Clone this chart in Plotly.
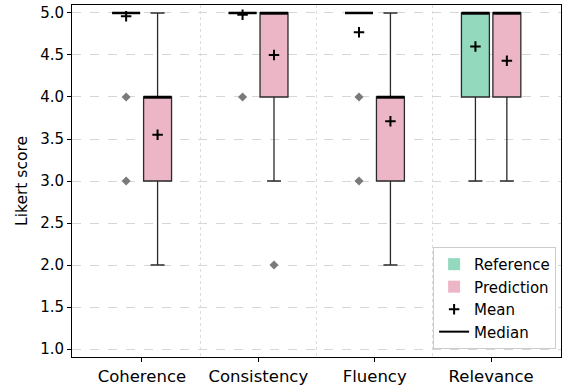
import plotly.graph_objects as go

categories = ["Coherence", "Consistency", "Fluency", "Relevance"]
cat_pos = [0, 1, 2, 3]

# Reference stats
ref_q1 = [5, 5, 5, 4]
ref_median = [5, 5, 5, 5]
ref_q3 = [5, 5, 5, 5]
ref_low = [5, 5, 5, 3]
ref_high = [5, 5, 5, 5]
ref_mean = [4.96, 4.98, 4.77, 4.60]
ref_outliers = [[4, 3], [4], [4, 3], []]

# Prediction stats
pred_q1 = [3, 4, 3, 4]
pred_median = [4, 5, 4, 5]
pred_q3 = [4, 5, 4, 5]
pred_low = [2, 3, 2, 3]
pred_high = [5, 5, 5, 5]
pred_mean = [3.55, 4.50, 3.71, 4.43]
pred_outliers = [[], [2], [], []]

y_ticks = [1.0, 1.5, 2.0, 2.5, 3.0, 3.5, 4.0, 4.5, 5.0]

OFFSET = 0.135
WIDTH = 0.24
GREEN = "#93d9be"
PINK = "#ecb6c6"
FONT = "DejaVu Sans"

fig = go.Figure()

series = [
    ("Reference", -OFFSET, GREEN, ref_q1, ref_median, ref_q3, ref_low, ref_high, ref_mean, ref_outliers),
    ("Prediction", OFFSET, PINK, pred_q1, pred_median, pred_q3, pred_low, pred_high, pred_mean, pred_outliers),
]

for name, off, color, q1, med, q3, lo, hi, mean, outl in series:
    xs = [p + off for p in cat_pos]
    fig.add_trace(go.Box(
        name=name, x=xs, q1=q1, median=med, q3=q3,
        lowerfence=lo, upperfence=hi,
        width=WIDTH, whiskerwidth=0.5,
        fillcolor=color, line=dict(color="#2a2a2a", width=1.3),
        boxpoints=False, showlegend=False,
        hoverinfo="skip",
    ))

# medians (thick black)
for name, off, color, q1, med, q3, lo, hi, mean, outl in series:
    fig.add_trace(go.Scatter(
        x=[p + off for p in cat_pos], y=med, mode="markers", showlegend=False,
        marker=dict(symbol="line-ew", size=20, line=dict(color="black", width=2.5)),
        hoverinfo="skip",
    ))

for name, off, color, q1, med, q3, lo, hi, mean, outl in series:
    ox, oy = [], []
    for p, vals in zip(cat_pos, outl):
        for v in vals:
            ox.append(p + off)
            oy.append(v)
    fig.add_trace(go.Scatter(
        x=ox, y=oy, mode="markers", showlegend=False,
        marker=dict(symbol="diamond", size=7, color="#7a7a7a"),
    ))

for name, off, color, q1, med, q3, lo, hi, mean, outl in series:
    fig.add_trace(go.Scatter(
        x=[p + off for p in cat_pos], y=mean, mode="markers",
        showlegend=False,
        marker=dict(symbol="cross-thin", size=7.5, line=dict(color="black", width=2)),
    ))

# legend-only entries
for name, off, color, *_ in series:
    fig.add_trace(go.Bar(
        x=[None], y=[None], name=name,
        marker=dict(color=color, line=dict(width=0)),
    ))
fig.add_trace(go.Scatter(
    x=[None], y=[None], mode="markers", name="Mean",
    marker=dict(symbol="cross-thin", size=7.5, line=dict(color="black", width=2)),
))
fig.add_trace(go.Scatter(
    x=[None], y=[None], mode="lines", name="Median",
    line=dict(color="black", width=2),
))

fig.update_layout(
    width=562, height=387,
    margin=dict(l=72, r=1, t=5, b=30),
    paper_bgcolor="white", plot_bgcolor="white",
    font=dict(family=FONT, size=15, color="black"),
    showlegend=True,
    legend=dict(
        x=0.99, y=0.023, xanchor="right", yanchor="bottom",
        bgcolor="rgba(255,255,255,0.9)", bordercolor="#cccccc", borderwidth=1,
        font=dict(family=FONT, size=15), tracegroupgap=0,
    ),
    xaxis=dict(
        range=[-0.6, 3.6], tickvals=cat_pos, ticktext=categories,
        showgrid=False, zeroline=False, automargin=False,
        showline=True, linecolor="black", linewidth=1, mirror=True,
        ticks="outside", ticklen=4, tickcolor="black",
        tickfont=dict(family=FONT, size=16.5),
        minor=dict(tickvals=[0.5, 1.5, 2.5], showgrid=True,
                   gridcolor="#dddddd", griddash="dot", gridwidth=1, ticks=""),
    ),
    yaxis=dict(
        range=[0.905, 5.095], tickvals=y_ticks,
        ticktext=[f"{v:.1f}" for v in y_ticks],
        showgrid=True, gridcolor="#d6d6d6", griddash="dash", gridwidth=1,
        zeroline=False, automargin=False,
        showline=True, linecolor="black", linewidth=1, mirror=True,
        ticks="outside", ticklen=4, tickcolor="black",
        tickfont=dict(family=FONT, size=15),
        title=dict(text="Likert score", font=dict(family=FONT, size=15.5), standoff=8),
    ),
)

fig.write_html("out.html", config={"displayModeBar": False},
               post_script="document.body.style.margin='0';")
